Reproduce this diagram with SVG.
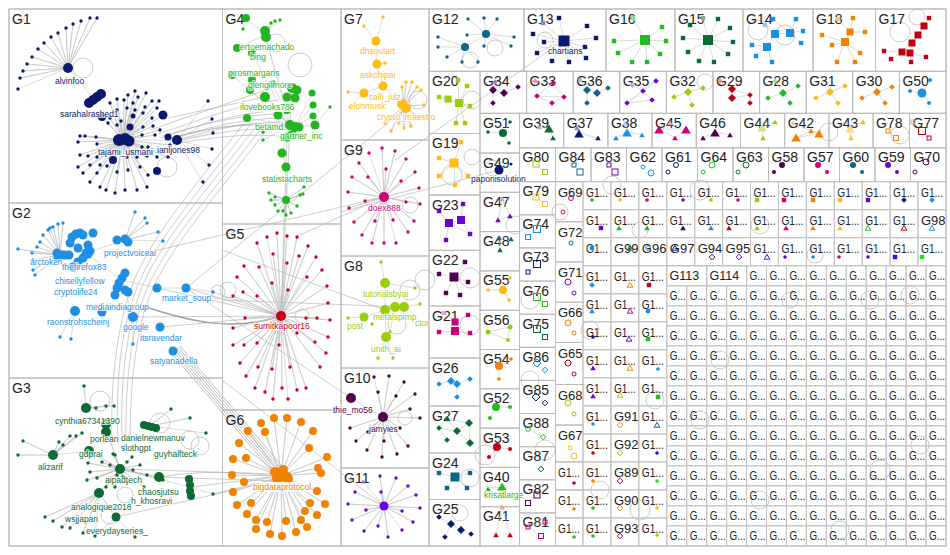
<svg xmlns="http://www.w3.org/2000/svg" width="950" height="555" viewBox="0 0 950 555">
<defs>
<style>
.b{fill:none;stroke:#bcbcbc;stroke-width:1}
.gl{font-family:"Liberation Sans",Arial,sans-serif;font-size:14px;fill:#222}
.sl{font-family:"Liberation Sans",Arial,sans-serif;font-size:13px;fill:#222}
.nl{font-family:"Liberation Sans",Arial,sans-serif;font-size:8.5px;stroke:#fff;stroke-width:2.2;stroke-opacity:.75;paint-order:stroke;stroke-linejoin:round}
.e{fill:none;stroke:#c2c2c2;stroke-width:.6}
.x{fill:none;stroke:#999;stroke-width:.7;stroke-opacity:.7}
.lp{fill:none;stroke:#b4b4b4;stroke-width:.7}
.d{fill:none;stroke-linecap:round;stroke-width:3.4}
.h{fill:none;stroke-width:1}
</style>
<path id="t" d="M0-2.6L2.8 2.2H-2.8Z"/>
<path id="tb" d="M0-4.5L4.8 3.6H-4.8Z"/>
<path id="dm" d="M0-2.8L2.8 0L0 2.8L-2.8 0Z"/>
<path id="db" d="M0-4L4 0L0 4L-4 0Z"/>
<rect id="sq" x="-2.2" y="-2.2" width="4.4" height="4.4"/>
<text id="g1" font-family="'Liberation Sans',Arial,sans-serif" font-size="13" fill="#222" textLength="22" lengthAdjust="spacingAndGlyphs">G1...</text>
<g id="c20"><rect width="19.94" height="20" fill="none" stroke="#c4c4c4"/><text x="3" y="14" font-family="'Liberation Sans',Arial,sans-serif" font-size="12.5" fill="#222" textLength="16" lengthAdjust="spacingAndGlyphs">G...</text></g>
<g id="r14"><use href="#c20" x="666.8"/><use href="#c20" x="686.7"/><use href="#c20" x="706.7"/><use href="#c20" x="726.6"/><use href="#c20" x="746.6"/><use href="#c20" x="766.5"/><use href="#c20" x="786.4"/><use href="#c20" x="806.4"/><use href="#c20" x="826.3"/><use href="#c20" x="846.3"/><use href="#c20" x="866.2"/><use href="#c20" x="886.1"/><use href="#c20" x="906.1"/><use href="#c20" x="926"/></g>
<g id="r13" fill="none" stroke="#c4c4c4"><rect x="583" width="27.92" height="28"/><rect x="610.9" width="27.92" height="28"/><rect x="638.8" width="27.92" height="28"/><rect x="666.8" width="27.92" height="28"/><rect x="694.7" width="27.92" height="28"/><rect x="722.6" width="27.92" height="28"/><rect x="750.5" width="27.92" height="28"/><rect x="778.4" width="27.92" height="28"/><rect x="806.4" width="27.92" height="28"/><rect x="834.3" width="27.92" height="28"/><rect x="862.2" width="27.92" height="28"/><rect x="890.1" width="27.92" height="28"/><rect x="918" width="28" height="28"/></g>
<g id="r3" fill="none" stroke="#c4c4c4"><rect x="583" width="27.92" height="28"/><rect x="610.9" width="27.92" height="28"/><rect x="638.8" width="27.92" height="28"/></g>
</defs>
<rect width="950" height="555" fill="#fff"/>

<g id="connectors">
<path class="x" d="M160 138C200 125 240 112 282 110M165 140C200 130 240 118 285 118M170 142C205 132 240 122 288 122M175 137C210 128 250 120 292 126M178 141C215 133 250 126 290 130M150 130L272 88M168 118L265 97M172 144C210 138 250 132 287 137M158 134C200 120 240 104 278 100M162 136C202 124 242 114 284 114M168 139C206 129 246 121 289 127"/>
<path class="x" d="M112 440C110 380 118 318 135 278C155 232 195 186 245 122M118 440C115 380 122 320 140 280C160 235 200 190 250 125M122 440C120 380 127 320 145 280C165 237 205 192 255 128M126 440C125 380 132 320 150 282C170 240 210 195 260 130M130 442C130 382 136 322 155 284C175 242 214 198 265 132"/>
<path fill="none" stroke="#8a8a8a" stroke-width="1.4" stroke-opacity=".8" d="M140 305C190 322 232 332 281 316"/>
<path class="x" d="M186 288L281 316M213 292L281 316M160 327L281 316M157 288L281 316M133 317L281 316"/>
<path fill="none" stroke="#9a9a9a" stroke-width=".8" stroke-opacity=".8" d="M170 351L276 476M172 350L278 475M174 349L280 474M176 348L282 473M178 347L284 472M180 346L286 471"/>
<path class="x" d="M160 477C200 470 240 472 278 476M192 487L278 476M213 494L280 478M120 469L275 474M159 477L276 481M116 517L278 480"/>
<path class="x" d="M150 252L384 197M186 288L351 398M222 250L385 310M300 235L384 197M404 110L186 288M395 160L564 40M341 212L499 170M281 316L290 125M281 316L287 137M404 307L222 300M384 506L222 380"/>
<circle class="lp" cx="83" cy="68" r="10"/><circle class="lp" cx="167" cy="167" r="10"/><circle class="lp" cx="218" cy="292" r="7"/><circle class="lp" cx="100" cy="401" r="10"/><circle class="lp" cx="160" cy="423" r="10"/><circle class="lp" cx="190" cy="440" r="9"/><circle class="lp" cx="200" cy="446" r="9"/><circle class="lp" cx="110" cy="515" r="9"/><circle class="lp" cx="125" cy="495" r="8"/><circle class="lp" cx="276" cy="43" r="9"/><circle class="lp" cx="300" cy="65" r="12"/><circle class="lp" cx="302" cy="316" r="7"/><circle class="lp" cx="228" cy="290" r="8"/><circle class="lp" cx="418" cy="100" r="9"/><circle class="lp" cx="410" cy="205" r="8"/><circle class="lp" cx="410" cy="290" r="10"/><circle class="lp" cx="425" cy="280" r="10"/><circle class="lp" cx="397" cy="325" r="9"/><circle class="lp" cx="405" cy="418" r="7"/><circle class="lp" cx="470" cy="60" r="8"/><circle class="lp" cx="495" cy="48" r="8"/><circle class="lp" cx="545" cy="40" r="8"/><circle class="lp" cx="758" cy="30" r="10"/><circle class="lp" cx="785" cy="35" r="10"/><circle class="lp" cx="917" cy="17" r="8"/><circle class="lp" cx="900" cy="32" r="10"/><circle class="lp" cx="472" cy="157" r="8"/><circle class="lp" cx="452" cy="175" r="10"/><circle class="lp" cx="470" cy="278" r="10"/><circle class="lp" cx="470" cy="478" r="9"/><circle class="lp" cx="460" cy="513" r="8"/><circle class="lp" cx="470" cy="325" r="10"/><circle class="lp" cx="472" cy="100" r="9"/><circle class="lp" cx="705" cy="82" r="8"/><circle class="lp" cx="560" cy="212" r="8"/><circle class="lp" cx="612" cy="185" r="9"/><circle class="lp" cx="640" cy="230" r="8"/><circle class="lp" cx="700" cy="190" r="10"/><circle class="lp" cx="760" cy="225" r="9"/><circle class="lp" cx="815" cy="255" r="8"/><circle class="lp" cx="870" cy="300" r="9"/><circle class="lp" cx="910" cy="295" r="9"/><circle class="lp" cx="880" cy="470" r="10"/><circle class="lp" cx="920" cy="445" r="9"/><circle class="lp" cx="700" cy="420" r="9"/><circle class="lp" cx="590" cy="330" r="9"/><circle class="lp" cx="545" cy="450" r="10"/><circle class="lp" cx="530" cy="380" r="9"/><circle class="lp" cx="600" cy="490" r="9"/><circle class="lp" cx="640" cy="510" r="10"/><circle class="lp" cx="485" cy="455" r="10"/><circle class="lp" cx="493" cy="168" r="8"/><circle class="lp" cx="515" cy="225" r="9"/><circle class="lp" cx="790" cy="300" r="8"/><circle class="lp" cx="720" cy="360" r="9"/><circle class="lp" cx="760" cy="500" r="9"/><circle class="lp" cx="840" cy="530" r="9"/><circle class="lp" cx="829" cy="132" r="9"/><circle class="lp" cx="900" cy="135" r="9"/><circle class="lp" cx="530" cy="300" r="9"/><circle class="lp" cx="655" cy="400" r="9"/>
</g>

<g id="G1">
<rect class="b" x="9" y="9" width="213.5" height="194"/>
<text class="gl" x="12" y="23.5">G1</text>
<path class="e" d="M18 89 68 68 20 78 68 68 23 71 68 68 27 64 68 68 32 57 68 68 38 49 68 68 44 43 68 68 51 37 68 68 58 33 68 68 66 28 68 68 73 24 68 68 81 21 68 68 90 18 68 68 97 18 68 68 95 100"/>
<path class="e" d="M123 140 135 91 123 140 146 93 123 140 128 95 123 140 138 97 123 140 152 101 123 140 159 101 123 140 117 99 123 140 124 100 123 140 110 103 123 140 133 103 123 140 145 107 123 140 157 108 123 140 117 110 123 140 127 108 123 140 135 110 123 140 143 113 123 140 110 118 123 140 121 121 123 140 152 118 123 140 108 123 123 140 117 125 123 140 143 127 123 140 153 126 123 140 160 130 123 140 80 136 123 140 85 136 123 140 96 137 123 140 142 135 123 140 155 135 123 140 78 142 123 140 97 144 123 140 142 147 123 140 148 147 123 140 170 145 123 140 80 155 123 140 88 156 123 140 97 157 123 140 127 157 123 140 137 157 123 140 147 156 123 140 157 157 123 140 168 157 123 140 78 167 123 140 90 165 123 140 100 165 123 140 107 166 123 140 117 172 123 140 128 170 123 140 140 167 123 140 148 175 123 140 83 173 123 140 97 173 123 140 90 182 123 140 100 187 123 140 106 190 123 140 115 193 123 140 125 190 123 140 137 190 123 140 147 187 123 140 163 115 123 140 102 117 123 140 177 140M177 140 208 101M177 140 212 119M177 140 213 133M177 140 212 149M177 140 209 165M177 140 203 182"/>
<g fill="#0b1a6e">
<path class="d" stroke="#0b1a6e" d="M18 89h0M20 78h0M23 71h0M27 64h0M32 57h0M38 49h0M44 43h0M51 37h0M58 33h0M66 28h0M73 24h0M81 21h0M90 18h0M97 18h0M135 91h0M146 93h0M128 95h0M138 97h0M152 101h0M159 101h0M117 99h0M124 100h0M110 103h0M133 103h0M145 107h0M157 108h0M208 101h0M117 110h0M127 108h0M135 110h0M143 113h0M110 118h0M121 121h0M152 118h0M212 119h0M108 123h0M117 125h0M143 127h0M153 126h0M160 130h0M213 133h0M80 136h0M85 136h0M96 137h0M142 135h0M155 135h0M78 142h0M97 144h0M142 147h0M148 147h0M170 145h0M212 149h0M80 155h0M88 156h0M97 157h0M127 157h0M137 157h0M147 156h0M157 157h0M168 157h0M78 167h0M90 165h0M100 165h0M107 166h0M117 172h0M128 170h0M140 167h0M148 175h0M83 173h0M97 173h0M209 165h0M90 182h0M100 187h0M106 190h0M115 193h0M125 190h0M137 190h0M147 187h0M203 182h0"/>
<circle cx="68" cy="68" r="5"/><circle cx="177" cy="140" r="5"/><circle cx="163" cy="115" r="4.5"/><circle cx="102" cy="117" r="4"/><circle cx="130" cy="127" r="3.5"/><circle cx="168" cy="137" r="3.5"/><circle cx="113" cy="160" r="4"/><circle cx="157" cy="171" r="4"/><circle cx="133" cy="116" r="2.5"/>
<circle cx="119" cy="140" r="6"/><circle cx="125" cy="139" r="6"/><circle cx="129" cy="141" r="5.5"/>
<circle cx="89" cy="103" r="5"/><circle cx="93" cy="100" r="5"/><circle cx="97" cy="97" r="5"/><circle cx="101" cy="94" r="5"/>
</g>
<g fill="#0b1a6e">
<text class="nl" x="55" y="84">alvinfoo</text>
<text class="nl" x="60" y="117">sarahalrashed1</text>
<text class="nl" x="98" y="155">tajami_usmani</text>
<text class="nl" x="157" y="153">ianljones98</text>
</g>
</g>

<g id="G2">
<rect class="b" x="9" y="203" width="213.5" height="175"/>
<text class="gl" x="12" y="217.5">G2</text>
<path class="e" d="M60 255 18 249 60 255 32 253 60 255 37 247 60 255 40 242 60 255 43 235 60 255 48 230 60 255 53 227 60 255 58 224 60 255 63 223 60 255 33 260 60 255 33 270 60 255 35 275 60 255 50 228M125 240 135 212 125 240 145 218 125 240 147 223 125 240 158 232 125 240 163 241M186 288 213 292M157 288 186 288M75 311 60 337M75 311 71 339M133 317 133 344M122 280 157 288M122 280 133 317M86 253 122 280M86 253 125 240"/>
<g fill="#1f8fe3">
<path class="d" stroke="#1f8fe3" d="M135 212h0M145 218h0M147 223h0M158 232h0M163 241h0M18 249h0M32 253h0M37 247h0M40 242h0M43 235h0M48 230h0M53 227h0M58 224h0M63 223h0M33 260h0M33 270h0M35 275h0M50 228h0M213 292h0M60 337h0M71 339h0M133 344h0"/>
<circle cx="57" cy="253" r="4.5"/><circle cx="62" cy="255" r="4.5"/><circle cx="65" cy="255" r="4.5"/><circle cx="58" cy="257" r="4.5"/><circle cx="69" cy="255" r="4.5"/><circle cx="72" cy="237" r="4.5"/><circle cx="76" cy="234" r="4.5"/><circle cx="80" cy="233" r="4.5"/><circle cx="83" cy="235" r="4.5"/><circle cx="93" cy="233" r="4.5"/><circle cx="70" cy="243" r="4.5"/><circle cx="78" cy="248" r="4.5"/><circle cx="88" cy="245" r="4.5"/><circle cx="86" cy="253" r="4.5"/><circle cx="90" cy="251" r="4.5"/><circle cx="117" cy="240" r="4.5"/><circle cx="125" cy="239" r="4.5"/><circle cx="128" cy="242" r="4.5"/><circle cx="125" cy="273" r="4.5"/><circle cx="122" cy="278" r="4.5"/><circle cx="119" cy="283" r="4.5"/><circle cx="117" cy="288" r="4.5"/><circle cx="115" cy="295" r="4.5"/><circle cx="125" cy="290" r="4.5"/><circle cx="128" cy="292" r="4.5"/><circle cx="75" cy="311" r="5"/><circle cx="102" cy="312" r="4.5"/><circle cx="133" cy="317" r="5"/><circle cx="160" cy="327" r="4.5"/><circle cx="173" cy="351" r="4.5"/><circle cx="157" cy="288" r="4.5"/><circle cx="186" cy="288" r="4.5"/>
<circle cx="73" cy="267" r="4.5"/><circle cx="78" cy="262" r="4.5"/><circle cx="83" cy="258" r="4.5"/><circle cx="88" cy="254" r="4.5"/>
</g>
<g fill="#1f8fe3">
<text class="nl" x="104" y="256">projectvoiceai</text>
<text class="nl" x="30" y="265">arctoken</text>
<text class="nl" x="62" y="270">thefirefox83</text>
<text class="nl" x="55" y="284">chisellyfellow</text>
<text class="nl" x="54" y="295">cryptolife24</text>
<text class="nl" x="162" y="301">market_soup</text>
<text class="nl" x="86" y="310">mediaindiagroup</text>
<text class="nl" x="47" y="325">raonstrohscheinj</text>
<text class="nl" x="123" y="330">google</text>
<text class="nl" x="140" y="341">itsravendar</text>
<text class="nl" x="150" y="364">satyanadella</text>
</g>
</g>

<g id="G3">
<rect class="b" x="9" y="378" width="213.5" height="168"/>
<text class="gl" x="12" y="392.5">G3</text>
<path class="e" d="M120 469 113 454 120 469 102 462 120 469 88 463 120 469 90 472 120 469 97 478 120 469 87 480 120 469 106 487 120 469 115 487 120 469 127 483 120 469 133 470 120 469 140 465 120 469 163 480 120 469 144 487 120 469 115 455 120 469 127 462 120 469 132 457 120 469 110 465 120 469 117 475 120 469 123 477 120 469 147 475 120 469 89 451 120 469 99 493 120 469 106 428 120 469 159 477 120 469 190 487M53 455 23 441 53 455 18 455 53 455 63 445 53 455 70 436 53 455 76 436 53 455 82 433 53 455 59 442 53 455 89 451M86 408 84 386 86 408 96 408 86 408 106 406 86 408 114 406M99 493 116 517 99 493 45 517 99 493 53 521 99 493 62 527 99 493 70 528 99 493 83 533 99 493 95 536 116 517 135 537M150 426 171 409 150 426 190 418 150 426 206 433M190 487 213 494"/>
<g fill="#0c6b33">
<path class="d" stroke="#0c6b33" d="M84 386h0M96 408h0M106 406h0M114 406h0M171 409h0M190 418h0M206 433h0M23 441h0M18 455h0M63 445h0M70 436h0M76 436h0M82 433h0M59 442h0M113 454h0M102 462h0M88 463h0M90 472h0M97 478h0M87 480h0M106 487h0M115 487h0M127 483h0M133 470h0M140 465h0M163 480h0M213 494h0M135 537h0M45 517h0M53 521h0M62 527h0M70 528h0M83 533h0M95 536h0M144 487h0M115 455h0M127 462h0M132 457h0M110 465h0M117 475h0M123 477h0M147 475h0"/>
<circle cx="86" cy="408" r="5"/><circle cx="106" cy="424" r="5"/><circle cx="106" cy="432" r="5"/><circle cx="53" cy="455" r="5"/><circle cx="89" cy="451" r="5"/><circle cx="120" cy="469" r="5"/><circle cx="99" cy="493" r="5"/><circle cx="159" cy="477" r="5"/><circle cx="116" cy="517" r="4.5"/>
<circle cx="144" cy="425" r="4"/><circle cx="148" cy="426" r="4"/><circle cx="152" cy="427" r="4"/><circle cx="156" cy="428" r="4"/><circle cx="189" cy="479" r="4"/><circle cx="190" cy="485" r="4"/><circle cx="190" cy="491" r="4"/><circle cx="191" cy="496" r="4"/>
</g>
<g fill="#0c6b33">
<text class="nl" x="55" y="424">cynthia67341390</text>
<text class="nl" x="90" y="442">porlean</text>
<text class="nl" x="121" y="441">danielnewmanuv</text>
<text class="nl" x="121" y="451">slothgpt</text>
<text class="nl" x="154" y="457">guyhalfteck</text>
<text class="nl" x="79" y="457">gdprai</text>
<text class="nl" x="38" y="470">alizarif</text>
<text class="nl" x="105" y="483">aipadtech</text>
<text class="nl" x="138" y="495">chaosjutsu</text>
<text class="nl" x="131" y="504">h_khosravi</text>
<text class="nl" x="71" y="510">analogique2018</text>
<text class="nl" x="65" y="522">wsjjapan</text>
<text class="nl" x="86" y="534">everydayseries_</text>
</g>
</g>

<g id="G4">
<rect class="b" x="222.5" y="9" width="118.5" height="215"/>
<text class="gl" x="225.5" y="23.5">G4</text>
<path class="e" d="M246 18 265 35M243 29 246 18M265 33 271 23M265 33 275 21M265 33 280 20M265 35 287 110M265 35 290 125M237 48 265 35M252 53 290 125M232 75 290 125M252 80 290 125M250 90 290 125M265 97 290 125M292 88 290 125M272 84 295 127M247 118 290 125M263 132 290 125M263 140 290 125M312 93 295 127M313 105 295 127M313 116 295 127M315 125 295 127M330 107 315 125M290 125 282 153M282 153 286 167M286 167 286 200M286 200 269 193 286 200 271 200 286 200 275 205 286 200 278 211 286 200 283 211 286 200 286 215 286 200 291 213 286 200 297 206 286 200 300 195 286 200 303 194 286 200 304 187 286 200 275 197"/>
<g fill="#22b522">
<path class="d" stroke="#22b522" d="M243 29h0M271 23h0M275 21h0M280 20h0M263 132h0M263 140h0M330 107h0M269 193h0M271 200h0M275 205h0M278 211h0M283 211h0M286 215h0M291 213h0M297 206h0M300 195h0M303 194h0M304 187h0M275 197h0"/>
<circle cx="246" cy="18" r="4"/><circle cx="265" cy="31" r="5"/><circle cx="266" cy="37" r="5"/><circle cx="237" cy="48" r="4"/><circle cx="252" cy="53" r="4"/><circle cx="232" cy="75" r="4"/><circle cx="252" cy="80" r="4"/><circle cx="250" cy="90" r="4"/><circle cx="265" cy="97" r="5"/><circle cx="292" cy="88" r="5"/><circle cx="297" cy="90" r="4.5"/><circle cx="295" cy="98" r="4.5"/><circle cx="287" cy="97" r="4.5"/><circle cx="278" cy="115" r="4.5"/><circle cx="287" cy="110" r="4"/><circle cx="290" cy="125" r="5"/><circle cx="295" cy="127" r="5"/><circle cx="292" cy="135" r="4.5"/><circle cx="299" cy="127" r="4.5"/><circle cx="287" cy="137" r="4.5"/><circle cx="282" cy="153" r="4.5"/><circle cx="286" cy="167" r="4.5"/><circle cx="247" cy="118" r="4"/><circle cx="312" cy="93" r="3.5"/><circle cx="313" cy="105" r="3.5"/><circle cx="313" cy="116" r="3.5"/><circle cx="315" cy="125" r="4.5"/><circle cx="286" cy="200" r="4"/><circle cx="272" cy="84" r="4"/>
</g>
<rect x="239" y="102" width="56" height="10" fill="#fff" fill-opacity=".8"/>
<g fill="#22b522">
<text class="nl" x="240" y="50">ertoemachado</text>
<text class="nl" x="250" y="60">bing</text>
<text class="nl" x="228" y="76">pirosmargaris</text>
<text class="nl" x="248" y="88">glengilmore</text>
<text class="nl" x="240" y="110">ilovebooks786</text>
<text class="nl" x="255" y="130">betamd</text>
<text class="nl" x="280" y="139">gartner_inc</text>
<text class="nl" x="262" y="182">statistacharts</text>
</g>
</g>

<g id="G5">
<rect class="b" x="222.5" y="224" width="118.5" height="186"/>
<text class="gl" x="225.5" y="238.5">G5</text>
<path class="e" d="M267 237 281 316 277 233 281 316 287 236 281 316 297 237 281 316 257 243 281 316 308 246 281 316 273 254 281 316 299 256 281 316 316 257 281 316 244 266 281 316 259 267 281 316 287 263 281 316 307 277 281 316 322 270 281 316 237 277 281 316 272 283 281 316 327 286 281 316 243 292 281 316 288 290 281 316 257 296 281 316 233 296 281 316 328 303 281 316 317 318 281 316 245 318 281 316 306 318 281 316 330 320 281 316 233 328 281 316 297 333 281 316 328 337 281 316 315 342 281 316 257 343 281 316 233 345 281 316 244 345 281 316 279 345 281 316 326 353 281 316 240 363 281 316 258 367 281 316 272 369 281 316 290 367 281 316 320 367 281 316 246 376 281 316 255 388 281 316 282 388 281 316 306 388 281 316 265 392 281 316 297 390 281 316 273 399 281 316 288 399"/>
<g fill="#cc0018">
<path class="d" stroke="#cc0018" d="M267 237h0M277 233h0M287 236h0M297 237h0M257 243h0M308 246h0M273 254h0M299 256h0M316 257h0M244 266h0M259 267h0M287 263h0M307 277h0M322 270h0M237 277h0M272 283h0M327 286h0M243 292h0M288 290h0M257 296h0M233 296h0M328 303h0M317 318h0M245 318h0M306 318h0M330 320h0M233 328h0M297 333h0M328 337h0M315 342h0M257 343h0M233 345h0M244 345h0M279 345h0M326 353h0M240 363h0M258 367h0M272 369h0M290 367h0M320 367h0M246 376h0M255 388h0M282 388h0M306 388h0M265 392h0M297 390h0M273 399h0M288 399h0"/>
<circle cx="281" cy="316" r="5"/>
<text class="nl" x="254" y="329">sumitkapoor16</text>
</g>
</g>

<g id="G6">
<rect class="b" x="222.5" y="410" width="118.5" height="136"/>
<text class="gl" x="225.5" y="424.5">G6</text>
<path class="e" d="M261 423 281 476 274 418 281 476 287 418 281 476 301 422 281 476 248 431 281 476 265 432 281 476 313 431 281 476 239 443 281 476 309 448 281 476 327 457 281 476 246 458 281 476 233 459 281 476 318 468 281 476 232 475 281 476 321 473 281 476 244 482 281 476 317 491 281 476 233 492 281 476 325 504 281 476 237 505 281 476 251 503 281 476 310 503 281 476 247 514 281 476 305 511 281 476 317 515 281 476 256 520 281 476 267 522 281 476 286 521 281 476 301 520 281 476 256 529 281 476 270 534 281 476 282 536 281 476 296 532 281 476 307 527"/>
<g fill="#ef8200">
<circle cx="261" cy="423" r="4"/><circle cx="274" cy="418" r="4"/><circle cx="287" cy="418" r="4"/><circle cx="301" cy="422" r="4"/><circle cx="248" cy="431" r="4"/><circle cx="265" cy="432" r="4"/><circle cx="313" cy="431" r="4"/><circle cx="239" cy="443" r="4"/><circle cx="309" cy="448" r="4"/><circle cx="327" cy="457" r="4"/><circle cx="246" cy="458" r="4"/><circle cx="233" cy="459" r="4"/><circle cx="318" cy="468" r="4"/><circle cx="232" cy="475" r="4"/><circle cx="321" cy="473" r="4"/><circle cx="244" cy="482" r="4"/><circle cx="317" cy="491" r="4"/><circle cx="233" cy="492" r="4"/><circle cx="325" cy="504" r="4"/><circle cx="237" cy="505" r="4"/><circle cx="251" cy="503" r="4"/><circle cx="310" cy="503" r="4"/><circle cx="247" cy="514" r="4"/><circle cx="305" cy="511" r="4"/><circle cx="317" cy="515" r="4"/><circle cx="256" cy="520" r="4"/><circle cx="267" cy="522" r="4"/><circle cx="286" cy="521" r="4"/><circle cx="301" cy="520" r="4"/><circle cx="256" cy="529" r="4"/><circle cx="270" cy="534" r="4"/><circle cx="282" cy="536" r="4"/><circle cx="296" cy="532" r="4"/><circle cx="307" cy="527" r="4"/>
<circle cx="275" cy="472" r="5"/><circle cx="283" cy="470" r="5"/><circle cx="280" cy="477" r="5"/><circle cx="287" cy="477" r="5"/><circle cx="277" cy="478" r="5"/><circle cx="288" cy="479" r="5"/>
</g>
<rect x="252" y="482" width="57" height="10" fill="#fff" fill-opacity=".8"/>
<g fill="#ef8200">
<text class="nl" x="253" y="490">bigdataprotocol</text>
</g>
</g>

<g id="G7">
<rect class="b" x="341" y="9" width="88" height="131"/>
<text class="gl" x="344" y="23.5">G7</text>
<path class="e" d="M383 17 376 41 377 64 383 86 404 106M364 26 376 41M385 63 377 64M364 93 383 86M348 92 364 93M350 107 364 93M404 106 406 82 404 106 412 82 404 106 417 87 404 106 421 90 404 106 402 87 404 106 385 123 404 106 391 131 404 106 399 123 404 106 404 128 404 106 411 126 404 106 418 117 404 106 424 105 404 106 395 96"/>
<g fill="#ffbb11">
<path class="d" stroke="#ffbb11" d="M383 17h0M364 26h0M385 63h0M348 92h0M350 107h0M406 82h0M412 82h0M417 87h0M421 90h0M402 87h0M385 123h0M391 131h0M399 123h0M404 128h0M411 126h0M418 117h0M424 105h0M395 96h0"/>
<circle cx="376" cy="41" r="4.5"/><circle cx="377" cy="64" r="4.5"/><circle cx="383" cy="86" r="4.5"/><circle cx="364" cy="93" r="4.5"/><circle cx="402" cy="104" r="5"/><circle cx="406" cy="108" r="5"/>
<text class="nl" x="360" y="54">dhsoulart</text>
<text class="nl" x="360" y="78">askchipai</text>
<text class="nl" x="369" y="100">calli_julz</text>
<text class="nl" x="349" y="109">elonmusk</text>
<text class="nl" x="377" y="120">crypto_maestro</text>
</g>
</g>

<g id="G9">
<rect class="b" x="341" y="140" width="88" height="116"/>
<text class="gl" x="344" y="154.5">G9</text>
<path class="e" d="M369 153 384 197 382 148 384 197 395 151 384 197 359 163 384 197 406 159 384 197 368 177 384 197 386 169 384 197 415 172 384 197 352 177 384 197 401 181 384 197 348 192 384 197 419 188 384 197 365 201 384 197 406 202 384 197 349 208 384 197 420 204 384 197 354 222 384 197 375 221 384 197 393 220 384 197 414 221 384 197 362 235 384 197 408 232 384 197 372 243 384 197 384 243 384 197 396 243"/>
<g fill="#cc0077">
<path class="d" stroke="#cc0077" d="M369 153h0M382 148h0M395 151h0M359 163h0M406 159h0M368 177h0M386 169h0M415 172h0M352 177h0M401 181h0M348 192h0M419 188h0M365 201h0M406 202h0M349 208h0M420 204h0M354 222h0M375 221h0M393 220h0M414 221h0M362 235h0M408 232h0M372 243h0M384 243h0M396 243h0"/>
<circle cx="384" cy="197" r="5"/>
<text class="nl" x="368" y="211">doex888</text>
</g>
</g>

<g id="G8">
<rect class="b" x="341" y="256" width="88" height="112"/>
<text class="gl" x="344" y="270.5">G8</text>
<path class="e" d="M381 262 385 283 385 310 395 307 404 307M385 283 415 288M404 307 420 304M364 317 385 310M348 318 364 317M385 310 386 337M386 337 378 358M386 337 393 358M372 324 385 310M390 332 395 307"/>
<g fill="#9acd0a">
<path class="d" stroke="#9acd0a" d="M381 262h0M415 288h0M420 304h0M348 318h0M372 324h0M390 332h0M378 358h0M393 358h0"/>
<circle cx="385" cy="283" r="5"/><circle cx="385" cy="310" r="5"/><circle cx="395" cy="307" r="5"/><circle cx="404" cy="307" r="5"/><circle cx="364" cy="317" r="4.5"/><circle cx="386" cy="337" r="5"/>
<text class="nl" x="363" y="297">tutorialsbyai</text>
<text class="nl" x="373" y="320">metalspimp</text>
<text class="nl" x="347" y="329">post</text>
<text class="nl" x="371" y="352">unith_ai</text>
<text class="nl" x="415" y="326">ctor</text>
</g>
</g>

<g id="G10">
<rect class="b" x="341" y="368" width="88" height="100"/>
<text class="gl" x="344" y="382.5">G10</text>
<path class="e" d="M374 377 383 417 389 376 383 417 404 382 383 417 378 392 383 417 396 396 383 417 415 394 383 417 410 409 383 417 420 418 383 417 350 428 383 417 368 432 383 417 400 428 383 417 356 441 383 417 384 441 383 417 408 446 383 417 367 450 383 417 382 457 383 417 397 454 383 417 351 398"/>
<g fill="#520052">
<path class="d" stroke="#520052" d="M374 377h0M389 376h0M404 382h0M378 392h0M396 396h0M415 394h0M410 409h0M420 418h0M350 428h0M368 432h0M400 428h0M356 441h0M384 441h0M408 446h0M367 450h0M382 457h0M397 454h0"/>
<circle cx="383" cy="417" r="5"/><circle cx="351" cy="398" r="5"/>
<text class="nl" x="369" y="432">jamyies</text>
<text class="nl" x="333" y="413">thie_mo56</text>
</g>
</g>

<g id="G11">
<rect class="b" x="341" y="468" width="88" height="78"/>
<text class="gl" x="344" y="482.5">G11</text>
<path class="e" d="M363 482 384 506 380 476 384 506 396 478 384 506 355 492 384 506 381 492 384 506 408 486 384 506 416 495 384 506 348 504 384 506 366 510 384 506 420 508 384 506 352 520 384 506 402 511 384 506 413 522 384 506 364 531 384 506 378 526 384 506 388 537 384 506 402 530"/>
<g fill="#6a05d0">
<path class="d" stroke="#6a05d0" d="M380 476h0M396 478h0M355 492h0M381 492h0M408 486h0M416 495h0M348 504h0M366 510h0M420 508h0M352 520h0M402 511h0M413 522h0M364 531h0M378 526h0M388 537h0M402 530h0"/>
<circle cx="363" cy="482" r="1.8" fill="#a070e0"/>
<circle cx="384" cy="506" r="4.5"/>
</g>
</g>

<g id="G12">
<rect class="b" x="429" y="9" width="95" height="62.3"/>
<text class="gl" x="432" y="23.5">G12</text>
<path class="e" d="M486 34 468 19M486 34 484 18M486 34 497 19M486 34 467 35M486 34 514 37M486 34 511 46M486 34 484 46M486 34 465 47M465 47 438 37M465 47 438 47M465 47 447 57M465 47 462 62M465 47 478 62"/>
<g fill="#0e6688"><path class="d" stroke="#0e6688" d="M468 19h0M484 18h0M497 19h0M467 35h0M438 37h0M514 37h0M438 47h0M484 46h0M511 46h0M447 57h0M462 62h0M478 62h0"/><circle cx="486" cy="34" r="4"/><circle cx="465" cy="47" r="4"/></g>
</g>

<g id="G13">
<rect class="b" x="524" y="9" width="82" height="62.3"/>
<text class="gl" x="527" y="23.5">G13</text>
<path class="e" d="M564 41 559 18M564 41 543 23M564 41 533 34M564 41 544 42M564 41 537 53M564 41 552 61M564 41 569 62M564 41 586 58M564 41 585 47M564 41 596 38M564 41 587 26"/>
<g fill="#0b1a6e"><rect x="558.5" y="35.5" width="11" height="11"/><use href="#sq" x="559" y="18"/><use href="#sq" x="543" y="23" fill="#8088c0"/><use href="#sq" x="533" y="34"/><use href="#sq" x="544" y="42"/><use href="#sq" x="537" y="53"/><use href="#sq" x="552" y="61"/><use href="#sq" x="569" y="62"/><use href="#sq" x="586" y="58"/><use href="#sq" x="585" y="47"/><use href="#sq" x="596" y="38"/><use href="#sq" x="587" y="26"/>
<text class="nl" x="548" y="54">chartians</text></g>
</g>

<g id="G16">
<rect class="b" x="606" y="9" width="69" height="62.3"/>
<text class="gl" x="609" y="23.5">G16</text>
<path class="e" d="M645 40 633 18M645 40 662 27M645 40 614 41M645 40 666 41M645 40 618 53M645 40 660 54M645 40 632 62M645 40 647 62"/>
<g fill="#22bb22"><rect x="640" y="35" width="10" height="10"/><use href="#sq" x="633" y="18" fill="#90dc90"/><use href="#sq" x="662" y="27"/><use href="#sq" x="614" y="41"/><use href="#sq" x="666" y="41"/><use href="#sq" x="618" y="53"/><use href="#sq" x="660" y="54"/><use href="#sq" x="632" y="62"/><use href="#sq" x="647" y="62"/></g>
</g>

<g id="G15">
<rect class="b" x="675" y="9" width="68" height="62.3"/>
<text class="gl" x="678" y="23.5">G15</text>
<path class="e" d="M708 40 690 25M708 40 703 18M708 40 718 19M708 40 730 28M708 40 683 38M708 40 733 42M708 40 688 52M708 40 728 54M708 40 699 61M708 40 714 62"/>
<g fill="#0c6b33"><rect x="703" y="35" width="10" height="10"/><use href="#sq" x="690" y="25"/><use href="#sq" x="703" y="18" fill="#80b090"/><use href="#sq" x="718" y="19"/><use href="#sq" x="730" y="28"/><use href="#sq" x="683" y="38"/><use href="#sq" x="733" y="42"/><use href="#sq" x="688" y="52"/><use href="#sq" x="728" y="54"/><use href="#sq" x="699" y="61"/><use href="#sq" x="714" y="62"/></g>
</g>

<g id="G14">
<rect class="b" x="743" y="9" width="70" height="62.3"/>
<text class="gl" x="746" y="23.5">G14</text>
<path class="e" d="M775 34 790 33M775 34 767 47M790 33 773 19M790 33 796 19M790 33 803 31M790 33 801 43M767 47 752 45M767 47 756 56M767 47 772 62M775 34 765 25"/>
<g fill="#1a8fe8"><rect x="771" y="30" width="8" height="8"/><rect x="786" y="29" width="8" height="8"/><rect x="763" y="43" width="8" height="8"/><use href="#sq" x="773" y="19"/><use href="#sq" x="796" y="19"/><use href="#sq" x="765" y="25" fill="#90c8f0"/><use href="#sq" x="803" y="31"/><use href="#sq" x="801" y="43"/><use href="#sq" x="752" y="45"/><use href="#sq" x="756" y="56"/><use href="#sq" x="772" y="62"/></g>
</g>

<g id="G18">
<rect class="b" x="813" y="9" width="62.5" height="62.3"/>
<text class="gl" x="816" y="23.5">G18</text>
<path class="e" d="M850 32 845 42M850 32 838 19M850 32 853 18M850 32 865 32M845 42 822 35M845 42 832 45M845 42 860 53M845 42 837 62M845 42 855 62"/>
<g fill="#ef8200"><rect x="846.5" y="28.5" width="7" height="7"/><rect x="841" y="38" width="8" height="8"/><use href="#sq" x="838" y="19" fill="#f5c080"/><use href="#sq" x="853" y="18"/><use href="#sq" x="865" y="32"/><use href="#sq" x="822" y="35"/><use href="#sq" x="832" y="45"/><use href="#sq" x="860" y="53"/><use href="#sq" x="837" y="62"/><use href="#sq" x="855" y="62"/></g>
</g>

<g id="G17">
<rect class="b" x="875.5" y="9" width="70.5" height="62.3"/>
<text class="gl" x="878.5" y="23.5">G17</text>
<path class="e" d="M924 26 918 35 912 43 902 52 910 53M924 26 929 18M902 52 884 51M902 52 891 59M910 53 911 62M910 53 926 57"/>
<g fill="#c00010"><rect x="920.5" y="22.5" width="7" height="7"/><rect x="914.5" y="31.5" width="7" height="7"/><rect x="908.5" y="39.5" width="7" height="7"/><rect x="898.5" y="48.5" width="7" height="7"/><rect x="906.5" y="49.5" width="7" height="7"/><use href="#sq" x="929" y="18"/><use href="#sq" x="884" y="51"/><use href="#sq" x="891" y="59"/><use href="#sq" x="911" y="62"/><use href="#sq" x="926" y="57"/></g>
</g>

<g id="G20">
<rect class="b" x="429" y="71.3" width="51" height="62.2"/>
<text class="gl" x="432" y="85.8">G20</text>
<path class="e" d="M459 103 458 80M459 103 467 86M459 103 439 97M459 103 448 99M459 103 470 106M459 103 456 123M459 103 465 123"/>
<g fill="#9acd0a"><use href="#sq" x="458" y="80"/><use href="#sq" x="467" y="86"/><use href="#sq" x="439" y="97"/><use href="#sq" x="470" y="106"/><use href="#sq" x="456" y="123"/><use href="#sq" x="465" y="123"/><rect x="444.5" y="95.5" width="7" height="7"/><rect x="455" y="99" width="8" height="8"/></g>
</g>

<g id="row2">
<g id="G34"><rect class="b" x="480" y="71.3" width="46.6" height="42"/><text class="gl" x="483" y="85.8">G34</text><path class="e" d="M493 90 504 93 518 87M493 90 493 103M504 93 495 82"/><g fill="#520052"><use href="#db" x="493" y="90"/><use href="#db" x="504" y="93"/><use href="#dm" x="518" y="87"/><use href="#dm" x="493" y="103"/><use href="#dm" x="495" y="82" fill="#b080b0"/></g></g>
<g id="G33"><rect class="b" x="526.6" y="71.3" width="46.6" height="42"/><text class="gl" x="529.6" y="85.8">G33</text><path class="e" d="M535 81 553 83 564 97 552 103 537 96 553 83M537 96 564 97"/><g fill="#cc0077"><use href="#dm" x="535" y="81" fill="#e890c0"/><use href="#dm" x="553" y="83"/><use href="#dm" x="537" y="96"/><use href="#dm" x="552" y="103"/><use href="#dm" x="564" y="97"/></g></g>
<g id="G36"><rect class="b" x="573.2" y="71.3" width="46.6" height="42"/><text class="gl" x="576.2" y="85.8">G36</text><path class="e" d="M580 80 587 90 597 93 608 88M587 90 587 103"/><g fill="#0e6688"><use href="#dm" x="580" y="80" fill="#90c0d0"/><use href="#db" x="587" y="90"/><use href="#db" x="597" y="93"/><use href="#dm" x="608" y="88"/><use href="#dm" x="587" y="103"/></g></g>
<g id="G35"><rect class="b" x="619.8" y="71.3" width="46.6" height="42"/><text class="gl" x="622.8" y="85.8">G35</text><path class="e" d="M632 85 643 91 656 81M643 91 627 103 652 100 643 91M656 81 627 103"/><g fill="#6a05d0"><use href="#dm" x="632" y="85" fill="#c0a0f0"/><use href="#dm" x="643" y="91"/><use href="#dm" x="656" y="81"/><use href="#dm" x="627" y="103"/><use href="#dm" x="652" y="100"/></g></g>
<g id="G32"><rect class="b" x="666.4" y="71.3" width="46.6" height="42"/><text class="gl" x="669.4" y="85.8">G32</text><path class="e" d="M688 92 674 97M688 92 703 88M688 92 692 105"/><g fill="#9acd0a"><use href="#db" x="688" y="92"/><use href="#dm" x="674" y="97"/><use href="#dm" x="703" y="88"/><use href="#dm" x="692" y="105"/></g></g>
<g id="G29"><rect class="b" x="713" y="71.3" width="46.6" height="42"/><text class="gl" x="716" y="85.8">G29</text><path class="e" d="M732 89 750 95 750 103M732 89 732 98 750 95M720 81 732 89"/><g fill="#c00010"><use href="#db" x="732" y="89"/><use href="#db" x="732" y="98"/><use href="#dm" x="750" y="95"/><use href="#dm" x="750" y="103"/><use href="#dm" x="720" y="81" fill="#e89090"/></g></g>
<g id="G28"><rect class="b" x="759.6" y="71.3" width="46.6" height="42"/><text class="gl" x="762.6" y="85.8">G28</text><path class="e" d="M783 93 768 98M783 93 798 86M783 93 790 103M783 93 775 81"/><g fill="#22bb22"><use href="#db" x="783" y="93"/><use href="#dm" x="768" y="98"/><use href="#dm" x="798" y="86"/><use href="#dm" x="790" y="103"/><use href="#dm" x="775" y="81" fill="#a0e0a0"/></g></g>
<g id="G31"><rect class="b" x="806.2" y="71.3" width="46.6" height="42"/><text class="gl" x="809.2" y="85.8">G31</text><path class="e" d="M830 92 816 98M830 92 845 86M830 92 838 103"/><g fill="#ffbb11"><use href="#db" x="830" y="92"/><use href="#dm" x="816" y="98"/><use href="#dm" x="845" y="86"/><use href="#dm" x="838" y="103"/></g></g>
<g id="G30"><rect class="b" x="852.8" y="71.3" width="46.6" height="42"/><text class="gl" x="855.8" y="85.8">G30</text><path class="e" d="M877 92 862 98M877 92 892 87M877 92 885 103"/><g fill="#ef8200"><use href="#db" x="877" y="92"/><use href="#dm" x="862" y="98"/><use href="#dm" x="892" y="87"/><use href="#dm" x="885" y="103"/></g></g>
<g id="G50"><rect class="b" x="899.4" y="71.3" width="46.6" height="42"/><text class="gl" x="902.4" y="85.8">G50</text><path class="e" d="M922 93 910 91M922 93 929 103M922 93 930 80"/><g fill="#1a8fe8"><circle cx="922" cy="93" r="4.5"/><circle cx="910" cy="91" r="2"/><circle cx="929" cy="103" r="2"/><circle cx="930" cy="80" r="2"/></g></g>
</g>

<g id="row3">
<g id="G51"><rect class="b" x="480" y="113.3" width="39.5" height="39.7"/><text class="gl" x="483" y="127.8">G51</text><path class="e" d="M503 133 510 122M503 133 488 132M503 133 509 143"/><g fill="#0c6b33"><circle cx="503" cy="133" r="4"/><circle cx="510" cy="122" r="1.8"/><circle cx="488" cy="132" r="1.8"/><circle cx="509" cy="143" r="1.8"/></g></g>
<g id="G39"><rect class="b" x="519.5" y="113.3" width="44.2" height="34.5"/><text class="gl" x="522.5" y="127.8">G39</text><path class="e" d="M549 128 553 138M549 128 539 127"/><g fill="#0c6b33"><use href="#tb" x="549" y="129"/><use href="#t" x="553" y="138"/><use href="#t" x="539" y="127" fill="#90b8a0"/></g></g>
<g id="G37"><rect class="b" x="563.7" y="113.3" width="44.2" height="34.5"/><text class="gl" x="566.7" y="127.8">G37</text><path class="e" d="M579 133 598 138M579 133 577 128"/><g fill="#0b1a6e"><use href="#t" x="577" y="128" fill="#8890c0"/><use href="#tb" x="579" y="134"/><use href="#t" x="598" y="138"/></g></g>
<g id="G38"><rect class="b" x="607.9" y="113.3" width="44.2" height="34.5"/><text class="gl" x="610.9" y="127.8">G38</text><path class="e" d="M627 132 616 138M627 132 642 135M627 132 625 123"/><g fill="#1a8fe8"><use href="#tb" x="627" y="133"/><use href="#t" x="616" y="138"/><use href="#t" x="642" y="135"/><use href="#t" x="625" y="123" fill="#a0d0f0"/></g></g>
<g id="G45"><rect class="b" x="652.1" y="113.3" width="44.2" height="34.5"/><text class="gl" x="655.1" y="127.8">G45</text><path class="e" d="M659 129 686 129 675 138 659 129"/><g fill="#cc0077"><use href="#tb" x="659" y="130"/><use href="#tb" x="686" y="130"/><use href="#t" x="675" y="138"/><use href="#t" x="670" y="123" fill="#e8a0c8"/></g></g>
<g id="G46"><rect class="b" x="696.3" y="113.3" width="44.2" height="34.5"/><text class="gl" x="699.3" y="127.8">G46</text><path class="e" d="M715 132 703 138M715 132 730 135"/><g fill="#520052"><use href="#tb" x="715" y="133"/><use href="#t" x="703" y="138"/><use href="#t" x="730" y="135"/></g></g>
<g id="G44"><rect class="b" x="740.5" y="113.3" width="44.2" height="34.5"/><text class="gl" x="743.5" y="127.8">G44</text><path class="e" d="M762 127 775 122M762 127 763 138"/><g fill="#9acd0a"><use href="#tb" x="762" y="128" fill="#cde690"/><use href="#t" x="775" y="122"/><use href="#t" x="763" y="138"/></g></g>
<g id="G42"><rect class="b" x="784.7" y="113.3" width="44.2" height="34.5"/><text class="gl" x="787.7" y="127.8">G42</text><path class="e" d="M796 138 811 131 819 133 796 138M793 123 811 131"/><g fill="#ef8200"><use href="#tb" x="796" y="138"/><use href="#t" x="811" y="131"/><use href="#tb" x="819" y="134"/><use href="#t" x="793" y="123" fill="#f5c890"/></g></g>
<g id="G43"><rect class="b" x="828.9" y="113.3" width="44.2" height="34.5"/><text class="gl" x="831.9" y="127.8">G43</text><path class="e" d="M850 128 863 122M850 128 851 138"/><g fill="#ffbb11"><use href="#tb" x="850" y="129" fill="#ffdc90"/><use href="#t" x="863" y="122"/><use href="#t" x="851" y="138"/></g></g>
<g id="G78"><rect class="b" x="873.1" y="113.3" width="36.4" height="34.5"/><text class="gl" x="876.1" y="127.8">G78</text><path class="e" d="M888 131 896 138"/><g class="h" stroke="#ef8200"><rect x="886" y="129" width="4" height="4"/><rect x="893.5" y="135.5" width="5" height="5"/></g></g>
<g id="G77"><rect class="b" x="909.5" y="113.3" width="36.5" height="34.5"/><text class="gl" x="912.5" y="127.8">G77</text><path class="e" d="M922 131 929 138M922 131 913 122"/><g class="h" stroke="#c00010"><rect x="918.5" y="127.5" width="7" height="7"/><rect x="927" y="136" width="4" height="4"/><rect x="911" y="120" width="4" height="4" stroke="#e8a0a0"/></g></g>
</g>

<g id="col429">
<g id="G19"><rect class="b" x="429" y="133.5" width="51" height="61.5"/><text class="gl" x="432" y="148">G19</text><path class="e" d="M454 163 439 158M454 163 468 176M454 163 439 176M454 163 455 185M454 163 461 142"/><g fill="#ffbb11"><rect x="449.5" y="158.5" width="9" height="9"/><use href="#sq" x="439" y="158"/><use href="#sq" x="468" y="176"/><use href="#sq" x="439" y="176"/><use href="#sq" x="455" y="185"/><use href="#sq" x="461" y="142"/></g></g>
<g id="G23"><rect class="b" x="429" y="195" width="51" height="55.3"/><text class="gl" x="432" y="209.5">G23</text><path class="e" d="M461 220 449 223 439 211M461 220 463 204M449 223 446 240M461 220 470 234M449 223 470 234"/><g fill="#6a05d0"><rect x="457" y="216" width="8" height="8"/><rect x="445" y="219" width="8" height="8"/><use href="#sq" x="439" y="211"/><use href="#sq" x="463" y="204"/><use href="#sq" x="446" y="240"/><use href="#sq" x="470" y="234"/></g></g>
<g id="G22"><rect class="b" x="429" y="250.3" width="51" height="55.7"/><text class="gl" x="432" y="264.8">G22</text><path class="e" d="M454 277 439 274M454 277 465 262M454 277 446 293M454 277 468 282M454 277 460 295"/><g fill="#520052"><rect x="449.5" y="272.5" width="9" height="9"/><use href="#sq" x="439" y="274"/><use href="#sq" x="465" y="262"/><use href="#sq" x="446" y="293"/><use href="#sq" x="468" y="282"/><use href="#sq" x="460" y="295"/></g></g>
<g id="G21"><rect class="b" x="429" y="306" width="51" height="52"/><text class="gl" x="432" y="320.5">G21</text><path class="e" d="M455 322 455 331M455 322 468 315M455 331 439 332M455 331 470 333M455 322 444 313"/><g fill="#cc0077"><rect x="451.5" y="318.5" width="7" height="7"/><rect x="451" y="327" width="8" height="8"/><use href="#sq" x="439" y="332"/><use href="#sq" x="468" y="315"/><use href="#sq" x="470" y="333"/><use href="#sq" x="444" y="313" fill="#e8a0c8"/></g></g>
<g id="G26"><rect class="b" x="429" y="358" width="51" height="48"/><text class="gl" x="432" y="372.5">G26</text><path class="e" d="M451 381 439 384M457 383 470 379M457 383 457 397M451 381 457 383"/><g fill="#1a8fe8"><use href="#db" x="451" y="381"/><use href="#db" x="457" y="384"/><use href="#dm" x="439" y="384"/><use href="#dm" x="470" y="379"/><use href="#dm" x="457" y="397"/></g></g>
<g id="G27"><rect class="b" x="429" y="406" width="51" height="47"/><text class="gl" x="432" y="420.5">G27</text><path class="e" d="M439 428 457 431 469 423 447 419 439 428 447 440 457 431 470 443 469 423M447 419 457 431"/><g fill="#0c6b33"><use href="#dm" x="439" y="428"/><use href="#db" x="457" y="431"/><use href="#db" x="469" y="423"/><use href="#dm" x="447" y="419"/><use href="#db" x="470" y="443"/><use href="#dm" x="447" y="440"/></g></g>
<g id="G24"><rect class="b" x="429" y="453" width="51" height="46.5"/><text class="gl" x="432" y="467.5">G24</text><path class="e" d="M455 477 439 473M455 477 467 488M455 477 447 488M455 477 470 473"/><g fill="#0e6688"><rect x="450.5" y="472.5" width="9" height="9"/><use href="#sq" x="439" y="473"/><use href="#sq" x="467" y="488"/><use href="#sq" x="447" y="488"/><use href="#sq" x="470" y="473"/></g></g>
<g id="G25"><rect class="b" x="429" y="499.5" width="51" height="46.5"/><text class="gl" x="432" y="514">G25</text><path class="e" d="M451 524 461 530M451 524 439 517M451 524 445 537M461 530 471 534"/><g fill="#0b1a6e"><use href="#db" x="451" y="524"/><use href="#db" x="461" y="530"/><use href="#dm" x="439" y="517"/><use href="#dm" x="445" y="537"/><use href="#dm" x="471" y="534"/></g></g>
</g>

<g id="col480">
<g id="G49"><rect class="b" x="480" y="153" width="39.5" height="39.3"/><text class="gl" x="483" y="167.5">G49</text><path class="e" d="M499 170 511 164"/><circle cx="499" cy="170" r="4.5" fill="#0b1a6e"/><circle cx="511" cy="164" r="1.5" fill="#0b1a6e"/><text class="nl" x="471" y="182" fill="#0b1a6e">paponisolution</text></g>
<g id="G47"><rect class="b" x="480" y="192.3" width="39.5" height="39.3"/><text class="gl" x="483" y="206.8">G47</text><path class="e" d="M498 220 510 216 502 199 498 220"/><g fill="#6a05d0"><use href="#t" x="498" y="220"/><use href="#t" x="510" y="216"/><use href="#t" x="502" y="199" fill="#c0a0f0"/></g></g>
<g id="G48"><rect class="b" x="480" y="231.6" width="39.5" height="39.3"/><text class="gl" x="483" y="246.1">G48</text><path class="e" d="M499 237 500 250M499 237 511 239"/><g fill="#0e6688"><use href="#t" x="499" y="238"/><use href="#t" x="500" y="250"/><use href="#t" x="511" y="239"/></g></g>
<g id="G55"><rect class="b" x="480" y="270.9" width="39.5" height="39.3"/><text class="gl" x="483" y="285.4">G55</text><path class="e" d="M503 290 488 290M503 290 510 278M503 290 509 300"/><g fill="#ffbb11"><circle cx="503" cy="290" r="4"/><circle cx="488" cy="290" r="1.8"/><circle cx="510" cy="278" r="1.8"/><circle cx="509" cy="300" r="1.8"/></g></g>
<g id="G56"><rect class="b" x="480" y="310.2" width="39.5" height="39.3"/><text class="gl" x="483" y="324.7">G56</text><path class="e" d="M488 332 510 327 508 340 488 332"/><g fill="#9acd0a"><circle cx="488" cy="332" r="2.5"/><circle cx="510" cy="327" r="2.5"/><circle cx="508" cy="340" r="2"/></g></g>
<g id="G54"><rect class="b" x="480" y="349.5" width="39.5" height="39.3"/><text class="gl" x="483" y="364">G54</text><path class="e" d="M499 366 511 359M499 366 499 379"/><g fill="#ef8200"><circle cx="499" cy="366" r="4"/><circle cx="511" cy="359" r="1.8"/><circle cx="499" cy="379" r="1.8"/></g></g>
<g id="G52"><rect class="b" x="480" y="388.8" width="39.5" height="39.3"/><text class="gl" x="483" y="403.3">G52</text><path class="e" d="M496 407 510 407M496 407 490 418"/><g fill="#22bb22"><circle cx="496" cy="407" r="4"/><circle cx="510" cy="407" r="2"/><circle cx="490" cy="418" r="2"/></g></g>
<g id="G53"><rect class="b" x="480" y="428.1" width="39.5" height="39.3"/><text class="gl" x="483" y="442.6">G53</text><path class="e" d="M497 447 510 449M497 447 489 457"/><g fill="#c00010"><circle cx="497" cy="447" r="4"/><circle cx="510" cy="449" r="2"/><circle cx="489" cy="457" r="2"/></g></g>
<g id="G40"><rect class="b" x="480" y="467.4" width="39.5" height="39.3"/><text class="gl" x="483" y="481.9">G40</text><path class="e" d="M502 487 488 488"/><g fill="#22bb22"><use href="#tb" x="502" y="487"/><use href="#t" x="488" y="489"/><text class="nl" x="484" y="498">krisatlarge</text></g></g>
<g id="G41"><rect class="b" x="480" y="506.7" width="39.5" height="39.3"/><text class="gl" x="483" y="521.2">G41</text><path class="e" d="M496 535 502 506 510 535"/><g fill="#c00010"><use href="#t" x="496" y="535"/><use href="#t" x="510" y="535"/><use href="#t" x="502" y="507" fill="#e8a0a0"/></g></g>
</g>

<g id="col520">
<g id="G80"><rect class="b" x="519.5" y="147.8" width="36" height="33.9"/><text class="gl" x="522.5" y="162.3">G80</text><path class="e" d="M536 164 545 172"/><g class="h" stroke="#9acd0a"><rect x="533" y="161" width="6" height="6"/><rect x="542.5" y="169.5" width="5" height="5"/></g></g>
<g id="G79"><rect class="b" x="519.5" y="181.7" width="36" height="33.1"/><text class="gl" x="522.5" y="196.2">G79</text><path class="e" d="M536 197 545 204"/><g class="h" stroke="#ffbb11"><rect x="533" y="194" width="6" height="6"/><rect x="542.5" y="201.5" width="5" height="5"/></g></g>
<g id="G74"><rect class="b" x="519.5" y="214.8" width="36" height="33.1"/><text class="gl" x="522.5" y="229.3">G74</text><path class="e" d="M537 229 528 237"/><g class="h" stroke="#1a8fe8"><rect x="533.5" y="225.5" width="7" height="7"/><rect x="525.5" y="234.5" width="5" height="5"/></g></g>
<g id="G73"><rect class="b" x="519.5" y="247.9" width="36" height="33.2"/><text class="gl" x="522.5" y="262.4">G73</text><path class="e" d="M537 264 528 272"/><g class="h" stroke="#0b1a6e"><rect x="533.5" y="260.5" width="7" height="7"/><rect x="526" y="270" width="4" height="4"/></g></g>
<g id="G76"><rect class="b" x="519.5" y="281.1" width="36" height="33.1"/><text class="gl" x="522.5" y="295.6">G76</text><path class="e" d="M537 297 545 304"/><g class="h" stroke="#22bb22"><rect x="533.5" y="293.5" width="7" height="7"/><rect x="542.5" y="301.5" width="5" height="5"/></g></g>
<g id="G75"><rect class="b" x="519.5" y="314.2" width="36" height="33.1"/><text class="gl" x="522.5" y="328.7">G75</text><path class="e" d="M537 329 545 337"/><g class="h" stroke="#0c6b33"><rect x="533.5" y="325.5" width="7" height="7"/><rect x="542.5" y="334.5" width="5" height="5"/></g></g>
<g id="G86"><rect class="b" x="519.5" y="347.3" width="36" height="33.1"/><text class="gl" x="522.5" y="361.8">G86</text><path class="e" d="M537 363 545 370"/><g class="h" stroke="#1a8fe8"><use href="#db" x="537" y="363"/><use href="#dm" x="545" y="370"/></g></g>
<g id="G85"><rect class="b" x="519.5" y="380.4" width="36" height="33.1"/><text class="gl" x="522.5" y="394.9">G85</text><path class="e" d="M536 397 545 403"/><g class="h" stroke="#0b1a6e"><use href="#db" x="536" y="397"/><use href="#dm" x="545" y="403"/></g></g>
<g id="G88"><rect class="b" x="519.5" y="413.5" width="36" height="33.2"/><text class="gl" x="522.5" y="428">G88</text><path class="e" d="M528 429 543 437"/><g class="h" stroke="#22bb22"><use href="#dm" x="528" y="429"/><use href="#dm" x="543" y="437"/></g></g>
<g id="G87"><rect class="b" x="519.5" y="446.7" width="36" height="33.1"/><text class="gl" x="522.5" y="461.2">G87</text><path class="e" d="M541 469 545 456"/><g class="h" stroke="#0c6b33"><use href="#dm" x="541" y="469"/></g></g>
<g id="G82"><rect class="b" x="519.5" y="479.8" width="36" height="33.1"/><text class="gl" x="522.5" y="494.3">G82</text><path class="e" d="M537 495 528 503M537 495 545 488"/><g class="h" stroke="#520052"><rect x="534" y="492" width="6" height="6"/><rect x="525.5" y="500.5" width="5" height="5"/></g></g>
<g id="G81"><rect class="b" x="519.5" y="512.9" width="36" height="33.1"/><text class="gl" x="522.5" y="527.4">G81</text><path class="e" d="M541 536 528 527M528 527 545 522"/><g class="h" stroke="#cc0077"><rect x="538.5" y="533.5" width="5" height="5"/><rect x="526" y="525" width="4" height="4"/><rect x="543" y="520" width="4" height="4"/></g></g>
</g>

<g id="row148">
<g id="G84"><rect class="b" x="555.5" y="147.8" width="35.5" height="33.9"/><text class="gl" x="558.5" y="162.3">G84</text><g class="h" stroke="#0e6688"><rect x="572" y="163" width="4" height="4"/><rect x="577" y="169" width="6" height="6"/></g></g>
<g id="G83"><rect class="b" x="591" y="147.8" width="35.5" height="33.9"/><text class="gl" x="594" y="162.3">G83</text><g class="h" stroke="#6a05d0"><rect x="607" y="163" width="4" height="4"/><rect x="612" y="169" width="6" height="6"/></g></g>
<g id="G62"><rect class="b" x="626.5" y="147.8" width="35.5" height="33.9"/><text class="gl" x="629.5" y="162.3">G62</text><g class="h" stroke="#1a8fe8"><circle cx="643" cy="167" r="2"/><circle cx="651" cy="173" r="3"/></g></g>
<g id="G61"><rect class="b" x="662" y="147.8" width="35.5" height="33.9"/><text class="gl" x="665" y="162.3">G61</text><g class="h" stroke="#0b1a6e"><circle cx="668" cy="172" r="2"/><circle cx="676" cy="165" r="2.5"/></g></g>
<g id="G64"><rect class="b" x="697.5" y="147.8" width="35.5" height="33.9"/><text class="gl" x="700.5" y="162.3">G64</text><g class="h" stroke="#22bb22"><circle cx="712" cy="165" r="3"/><circle cx="703" cy="172" r="2"/></g></g>
<g id="G63"><rect class="b" x="733" y="147.8" width="35.5" height="33.9"/><text class="gl" x="736" y="162.3">G63</text><g class="h" stroke="#0c6b33"><circle cx="746" cy="165" r="3"/><circle cx="738" cy="172" r="2"/></g></g>
<g id="G58"><rect class="b" x="768.5" y="147.8" width="35.5" height="33.9"/><text class="gl" x="771.5" y="162.3">G58</text><g fill="#520052"><circle cx="782" cy="165" r="3"/><circle cx="774" cy="172" r="2"/></g></g>
<g id="G57"><rect class="b" x="804" y="147.8" width="35.5" height="33.9"/><text class="gl" x="807" y="162.3">G57</text><g fill="#cc0077"><circle cx="818" cy="165" r="3"/><circle cx="827" cy="172" r="2"/></g></g>
<g id="G60"><rect class="b" x="839.5" y="147.8" width="35.5" height="33.9"/><text class="gl" x="842.5" y="162.3">G60</text><g fill="#0e6688"><circle cx="853" cy="165" r="3"/><circle cx="862" cy="172" r="2"/></g></g>
<g id="G59"><rect class="b" x="875" y="147.8" width="35.5" height="33.9"/><text class="gl" x="878" y="162.3">G59</text><g fill="#6a05d0"><circle cx="888" cy="165" r="3"/><circle cx="897" cy="172" r="2"/></g></g>
<g id="G70"><rect class="b" x="910.5" y="147.8" width="35.5" height="33.9"/><text class="gl" x="913.5" y="162.3">G70</text><g class="h" stroke="#520052"><circle cx="926" cy="162" r="3"/><circle cx="915" cy="172" r="2"/></g></g>
</g>

<g id="col555">
<rect class="b" x="555.5" y="181.7" width="27.5" height="40.1"/><text class="sl" x="558" y="196.7">G69</text>
<rect class="b" x="555.5" y="221.8" width="27.5" height="40.1"/><text class="sl" x="558" y="236.8">G72</text>
<rect class="b" x="555.5" y="261.9" width="27.5" height="40.3"/><text class="sl" x="558" y="277">G71</text>
<rect class="b" x="555.5" y="302.2" width="27.5" height="40.3"/><text class="sl" x="558" y="317.2">G66</text>
<rect class="b" x="555.5" y="342.5" width="27.5" height="42"/><text class="sl" x="558" y="357.5">G65</text>
<rect class="b" x="555.5" y="384.5" width="27.5" height="40.5"/><text class="sl" x="558" y="399.5">G68</text>
<rect class="b" x="555.5" y="425" width="27.5" height="36.9"/><text class="sl" x="558" y="440">G67</text>
<rect class="b" x="555.5" y="461.9" width="27.5" height="28"/><use href="#g1" x="558" y="476.9"/>
<rect class="b" x="555.5" y="489.9" width="27.5" height="28"/><use href="#g1" x="558" y="504.9"/>
<rect class="b" x="555.5" y="517.9" width="27.5" height="28.1"/><use href="#g1" x="558" y="532.9"/>
<g class="h"><circle cx="571" cy="198" r="2.5" stroke="#cc0077"/><circle cx="563" cy="212" r="2" stroke="#cc0077"/><circle cx="571" cy="243" r="2" stroke="#0e6688"/><circle cx="568" cy="282" r="3" stroke="#6a05d0"/><circle cx="574" cy="293" r="2" stroke="#6a05d0"/><circle cx="568" cy="323" r="3" stroke="#ef8200"/><circle cx="574" cy="333" r="2" stroke="#ef8200"/><circle cx="568" cy="363" r="3" stroke="#c00010"/><circle cx="574" cy="374" r="2" stroke="#c00010"/><circle cx="568" cy="403" r="3" stroke="#9acd0a"/><circle cx="574" cy="414" r="2" stroke="#9acd0a"/><circle cx="570" cy="448" r="2" stroke="#ffbb11"/><circle cx="574" cy="456" r="3" stroke="#ffbb11"/></g>
<circle cx="574" cy="483" r="1.8" fill="#c00010"/><circle cx="574" cy="509" r="1.8" fill="#ef8200"/><circle cx="574" cy="537" r="1.8" fill="#22bb22"/>
</g>

<g id="grid28">
<use href="#r13" y="181.7"/><use href="#r13" y="209.7"/><use href="#r13" y="237.7"/>
<use href="#r3" y="265.8"/><use href="#r3" y="293.8"/><use href="#r3" y="321.8"/><use href="#r3" y="349.8"/><use href="#r3" y="377.8"/><use href="#r3" y="405.9"/><use href="#r3" y="433.9"/><use href="#r3" y="461.9"/><use href="#r3" y="489.9"/><use href="#r3" y="517.9"/>
<use href="#g1" x="586" y="196.7"/><use href="#g1" x="613.9" y="196.7"/><use href="#g1" x="641.8" y="196.7"/><use href="#g1" x="669.8" y="196.7"/><use href="#g1" x="697.7" y="196.7"/><use href="#g1" x="725.6" y="196.7"/><use href="#g1" x="753.5" y="196.7"/><use href="#g1" x="781.4" y="196.7"/><use href="#g1" x="809.4" y="196.7"/><use href="#g1" x="837.3" y="196.7"/><use href="#g1" x="865.2" y="196.7"/><use href="#g1" x="893.1" y="196.7"/><use href="#g1" x="921" y="196.7"/>
<use href="#g1" x="586" y="224.7"/><use href="#g1" x="613.9" y="224.7"/><use href="#g1" x="641.8" y="224.7"/><use href="#g1" x="669.8" y="224.7"/><use href="#g1" x="697.7" y="224.7"/><use href="#g1" x="725.6" y="224.7"/><use href="#g1" x="753.5" y="224.7"/><use href="#g1" x="781.4" y="224.7"/><use href="#g1" x="809.4" y="224.7"/><use href="#g1" x="837.3" y="224.7"/><use href="#g1" x="865.2" y="224.7"/><use href="#g1" x="893.1" y="224.7"/><text class="sl" x="921" y="224.7">G98</text>
<use href="#g1" x="586" y="252.7"/><text class="sl" x="613.9" y="252.7">G99</text><text class="sl" x="641.8" y="252.7">G96</text><text class="sl" x="669.8" y="252.7">G97</text><text class="sl" x="697.7" y="252.7">G94</text><text class="sl" x="725.6" y="252.7">G95</text><use href="#g1" x="753.5" y="252.7"/><use href="#g1" x="781.4" y="252.7"/><use href="#g1" x="809.4" y="252.7"/><use href="#g1" x="837.3" y="252.7"/><use href="#g1" x="865.2" y="252.7"/><use href="#g1" x="893.1" y="252.7"/><use href="#g1" x="921" y="252.7"/>
<use href="#g1" x="586" y="280.8"/><use href="#g1" x="613.9" y="280.8"/><use href="#g1" x="641.8" y="280.8"/>
<use href="#g1" x="586" y="308.8"/><use href="#g1" x="613.9" y="308.8"/><use href="#g1" x="641.8" y="308.8"/>
<use href="#g1" x="586" y="336.8"/><use href="#g1" x="613.9" y="336.8"/><use href="#g1" x="641.8" y="336.8"/>
<use href="#g1" x="586" y="364.8"/><use href="#g1" x="613.9" y="364.8"/><use href="#g1" x="641.8" y="364.8"/>
<use href="#g1" x="586" y="392.8"/><use href="#g1" x="613.9" y="392.8"/><use href="#g1" x="641.8" y="392.8"/>
<use href="#g1" x="586" y="420.9"/><text class="sl" x="613.9" y="420.9">G91</text><use href="#g1" x="641.8" y="420.9"/>
<use href="#g1" x="586" y="448.9"/><text class="sl" x="613.9" y="448.9">G92</text><use href="#g1" x="641.8" y="448.9"/>
<use href="#g1" x="586" y="476.9"/><text class="sl" x="613.9" y="476.9">G89</text><use href="#g1" x="641.8" y="476.9"/>
<use href="#g1" x="586" y="504.9"/><text class="sl" x="613.9" y="504.9">G90</text><use href="#g1" x="641.8" y="504.9"/>
<use href="#g1" x="586" y="532.9"/><text class="sl" x="613.9" y="532.9">G93</text><use href="#g1" x="641.8" y="532.9"/>
<g>
<circle cx="592" cy="200" r="1.8" fill="#22bb22"/><circle cx="620" cy="200" r="1.8" fill="#ffbb11"/><circle cx="647" cy="200" r="1.8" fill="#cc0077"/><circle cx="683" cy="200" r="1.8" fill="#6a05d0"/><circle cx="711" cy="200" r="1.8" fill="#9acd0a"/><circle cx="738" cy="200" r="1.8" fill="#cc0077"/><use href="#sq" x="757" y="200" fill="#9acd0a"/><use href="#sq" x="784" y="200" fill="#cc0077"/><use href="#sq" x="813" y="200" fill="#ef8200"/><use href="#sq" x="840" y="200" fill="#ffbb11"/><use href="#sq" x="868" y="200" fill="#6a05d0"/><use href="#dm" x="904" y="200" fill="#0b1a6e"/><use href="#dm" x="932" y="200" fill="#1a8fe8"/>
<use href="#sq" x="601" y="228" fill="#6a05d0"/><use href="#t" x="619" y="228" fill="#22bb22"/><use href="#t" x="647" y="228" fill="#22bb22"/><use href="#t" x="683" y="228" fill="#0b1a6e"/><use href="#t" x="711" y="228" fill="#1a8fe8"/><use href="#t" x="729" y="228" fill="#c00010"/><use href="#t" x="757" y="228" fill="#9acd0a"/><use href="#t" x="786" y="228" fill="#cc0077"/><use href="#t" x="813" y="228" fill="#ef8200"/><use href="#t" x="840" y="228" fill="#ffbb11"/><use href="#t" x="868" y="228" fill="none" stroke="#22bb22"/><use href="#t" x="904" y="228" fill="none" stroke="#c00010"/><use href="#t" x="932" y="228" fill="none" stroke="#1a8fe8"/>
<use href="#sq" x="592" y="248" fill="#1a8fe8"/><use href="#t" x="630" y="248" fill="none" stroke="#0c6b33"/><use href="#dm" x="648" y="248" fill="none" stroke="#0e6688"/><use href="#t" x="675" y="248" fill="none" stroke="#0b1a6e"/><use href="#dm" x="712" y="257" fill="none" stroke="#520052"/><use href="#dm" x="739" y="257" fill="none" stroke="#6a05d0"/><use href="#t" x="767" y="257" fill="none" stroke="#6a05d0"/><circle cx="785" cy="257" r="1.8" fill="#6a05d0"/><circle cx="813" cy="257" r="1.8" fill="#1a8fe8"/><circle cx="839" cy="257" r="1.8" fill="#cc0077"/><circle cx="868" cy="257" r="1.8" fill="#6a05d0"/><use href="#sq" x="895" y="257" fill="#0b1aee"/><use href="#sq" x="922" y="257" fill="#22dd22"/>
<use href="#dm" x="592" y="285" fill="#1a8fe8"/><use href="#t" x="630" y="285" fill="none" stroke="#ef8200"/><use href="#sq" x="649" y="285" fill="#c00010"/>
<use href="#t" x="592" y="311" fill="#1a8fe8"/><use href="#t" x="630" y="311" fill="none" stroke="#cc0077"/><use href="#sq" x="648" y="311" fill="#1a8fe8"/>
<circle cx="593" cy="337" r="1.8" fill="#0b1a6e"/><use href="#t" x="629" y="339" fill="none" stroke="#6a05d0"/><use href="#sq" x="648" y="339" fill="#22bb22"/>
<use href="#t" x="593" y="368" fill="#6a05d0"/><use href="#t" x="630" y="368" fill="none" stroke="#ef8200"/><circle cx="658" cy="369" r="1.8" fill="#1a8fe8"/>
<use href="#t" x="593" y="396" fill="#6a05d0"/><use href="#t" x="620" y="395" fill="none" stroke="#9acd0a"/><use href="#sq" x="658" y="397" fill="#22bb22"/>
<circle cx="593" cy="424" r="1.8" fill="#1a8fe8"/><use href="#dm" x="620" y="425" fill="none" stroke="#ef8200"/><use href="#t" x="657" y="425" fill="none" stroke="#0e6688"/>
<circle cx="593" cy="453" r="1.8" fill="#c00010"/><use href="#dm" x="620" y="453" fill="none" stroke="#9acd0a"/><circle cx="657" cy="453" r="1.8" fill="#0b1aee"/>
<circle cx="593" cy="481" r="1.8" fill="#ef8200"/><use href="#dm" x="620" y="481" fill="none" stroke="#c00010"/><circle cx="657" cy="481" r="1.8" fill="#22dd22"/>
<circle cx="593" cy="508" r="1.8" fill="#22bb22"/><use href="#dm" x="620" y="508" fill="none" stroke="#ef8200"/><circle cx="657" cy="508" r="1.8" fill="#ffbb11"/>
<circle cx="593" cy="536" r="1.8" fill="#22bb22"/><use href="#dm" x="620" y="536" fill="none" stroke="#cc0077"/><circle cx="657" cy="535" r="1.8" fill="#9acd0a"/>
</g>
</g>

<g id="grid20">
<rect class="b" x="666.8" y="265.8" width="39.9" height="20"/><text class="sl" x="669.5" y="279.8" style="font-size:12.5px">G113</text>
<rect class="b" x="706.7" y="265.8" width="39.9" height="20"/><text class="sl" x="709.5" y="279.8" style="font-size:12.5px">G114</text>
<use href="#c20" x="746.6" y="265.8"/><use href="#c20" x="766.5" y="265.8"/><use href="#c20" x="786.4" y="265.8"/><use href="#c20" x="806.4" y="265.8"/><use href="#c20" x="826.3" y="265.8"/><use href="#c20" x="846.3" y="265.8"/><use href="#c20" x="866.2" y="265.8"/><use href="#c20" x="886.1" y="265.8"/><use href="#c20" x="906.1" y="265.8"/><use href="#c20" x="926" y="265.8"/>
<use href="#r14" y="285.8"/><use href="#r14" y="305.8"/><use href="#r14" y="325.8"/><use href="#r14" y="345.8"/><use href="#r14" y="365.8"/><use href="#r14" y="385.8"/><use href="#r14" y="405.8"/><use href="#r14" y="425.8"/><use href="#r14" y="445.8"/><use href="#r14" y="465.8"/><use href="#r14" y="485.8"/><use href="#r14" y="505.8"/><use href="#r14" y="525.8"/>
</g>

<rect x="9" y="9" width="937" height="537" fill="none" stroke="#bcbcbc"/>
</svg>
